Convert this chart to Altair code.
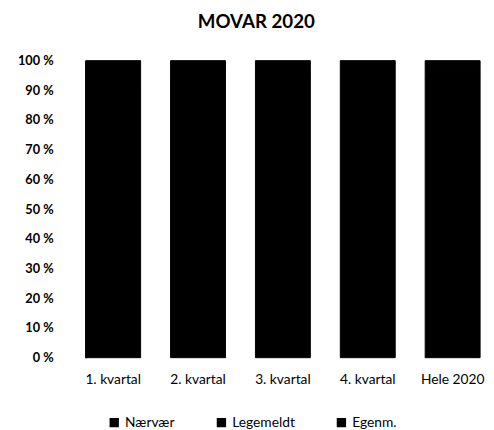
import altair as alt
import pandas as pd

quarters = ["1. kvartal", "2. kvartal", "3. kvartal", "4. kvartal", "Hele 2020"]
series = ["Nærvær", "Legemeldt", "Egenm."]
naervaer = [93.5, 94.0, 94.5, 93.0, 93.8]
legemeldt = [4.5, 4.0, 3.8, 5.0, 4.3]
egenm = [2.0, 2.0, 1.7, 2.0, 1.9]

rows = []
for i, q in enumerate(quarters):
    for k, (name, vals) in enumerate(zip(series, [naervaer, legemeldt, egenm])):
        rows.append({"kvartal": q, "type": name, "value": vals[i], "order": k})
df = pd.DataFrame(rows)

FONT = "Lato"

chart = alt.Chart(df).mark_bar(color="black", stroke="black", strokeWidth=1).encode(
    x=alt.X("kvartal:N", sort=quarters, title=None,
            scale=alt.Scale(paddingInner=0.353, paddingOuter=0),
            axis=alt.Axis(labelAngle=0, domain=False, ticks=False, labelPadding=15,
                          labelFontSize=14, labelFont=FONT, labelColor="black",
                          labelFontWeight="normal")),
    y=alt.Y("value:Q", stack="normalize", title=None,
            scale=alt.Scale(domain=[0, 1], nice=False),
            axis=alt.Axis(values=[i / 10 for i in range(11)],
                          labelExpr="round(datum.value*100) + ' %'",
                          grid=False, ticks=False, domain=True, domainColor="black",
                          domainWidth=2, labelPadding=33, labelFontSize=13,
                          labelFont=FONT, labelFontWeight="bold", labelColor="black")),
    color=alt.Color("type:N", sort=series,
                    scale=alt.Scale(domain=series, range=["#000000", "#000000", "#000000"]),
                    legend=alt.Legend(title=None, orient="none", direction="horizontal",
                                      legendX=22, legendY=361, symbolType="square",
                                      symbolSize=64, columnPadding=40,
                                      labelFont=FONT, labelFontSize=14, labelColor="black")),
    order=alt.Order("order:Q"),
).properties(
    width=401, height=302,
    title=alt.Title("MOVAR 2020", font=FONT, fontSize=19, fontWeight="bold",
                    color="black", anchor="middle", dx=-27, offset=23),
    padding={"left": 79, "top": 50, "right": 6, "bottom": 70},
    autosize="none",
).configure_view(stroke=None)

chart.save("out.html", embed_options={"renderer": "svg", "actions": False})
